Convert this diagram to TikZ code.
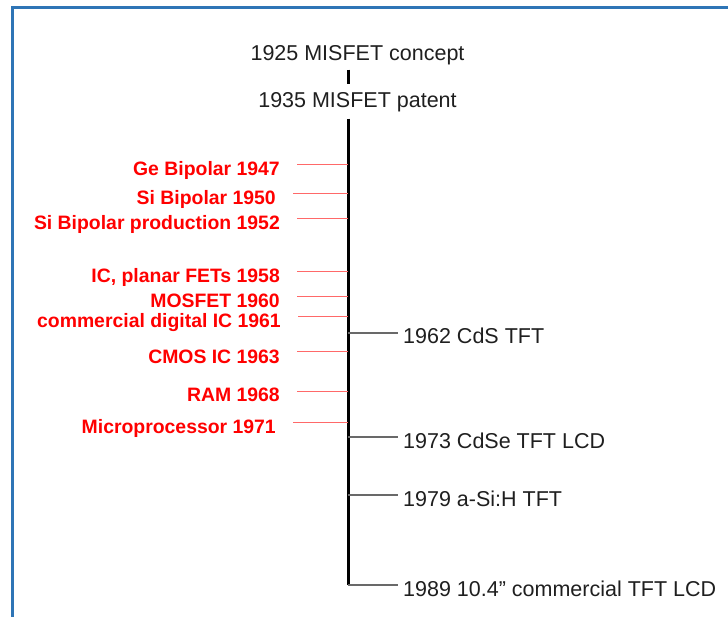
\documentclass[tikz,border=0pt]{standalone}
\usepackage{fontspec}
\setmainfont{Liberation Sans}
\definecolor{frameblue}{RGB}{46,117,182}
\definecolor{tickgray}{RGB}{105,105,105}
\definecolor{evred}{RGB}{255,0,0}
\definecolor{linered}{RGB}{255,105,105}
\tikzset{
  evtxt/.style={inner sep=0pt, font=\fontsize{21.5}{24}\selectfont, text=black!88},
  semitxt/.style={inner sep=0pt, anchor=base east, font=\bfseries\fontsize{19.4}{22}\selectfont, text=evred},
  tfttxt/.style={evtxt, anchor=base west},
  redtick/.style={draw=linered, line width=1pt, shorten >=17pt},
  graytick/.style={draw=tickgray, line width=1.1pt, shorten >=5pt},
  mainaxis/.style={draw=black, line width=3pt},
}
\begin{document}
\begin{tikzpicture}[x=1pt,y=-1pt]
  \useasboundingbox (0,0) rectangle (728,617);
  % frame, open on the right and at the bottom
  \draw[frameblue, line width=3pt] (12,617) -- (12,8) -- (728,8);

  \node[evtxt, anchor=base] (concept) at (357.5,61) {1925 MISFET concept};
  \node[evtxt, anchor=base] (patent) at (357.5,108) {1935 MISFET patent};
  \coordinate (bot) at (348,585);

  \draw[mainaxis, shorten <=4pt, shorten >=9pt] (concept.south -| bot) -- (patent.north -| bot);
  \draw[mainaxis, shorten <=6pt] (patent.south -| bot) -- (bot);

  % semiconductor milestones, left of the axis
  \foreach \y/\x/\txt/\nm in {165/280/Ge Bipolar 1947/ge,
      194/276/Si Bipolar 1950/si,
      219/280/Si Bipolar production 1952/sip,
      272/280/{IC, planar FETs 1958}/ic,
      297/280/MOSFET 1960/mos,
      317/281/commercial digital IC 1961/cdic,
      352/280/CMOS IC 1963/cmos,
      391/280/RAM 1968/ram,
      422/276/Microprocessor 1971/mp}{
    \coordinate (\nm-a) at (348,\y);
    \node[semitxt] (\nm) at (\x,\y+11) {\txt};
    \draw[redtick] (\nm-a) -- (\nm-a -| \nm.east);
  }

  % thin film transistors, right of the axis
  \foreach \y/\txt/\nm in {333/1962 CdS TFT/cds,
      437/1973 CdSe TFT LCD/cdse,
      495/1979 a-Si:H TFT/asi,
      585/{1989 10.4'' commercial TFT LCD}/lcd}{
    \coordinate (\nm-a) at (348,\y);
    \node[tfttxt] (\nm) at (403,\y+11) {\txt};
    \draw[graytick] (\nm-a) -- (\nm-a -| \nm.west);
  }
\end{tikzpicture}
\end{document}
